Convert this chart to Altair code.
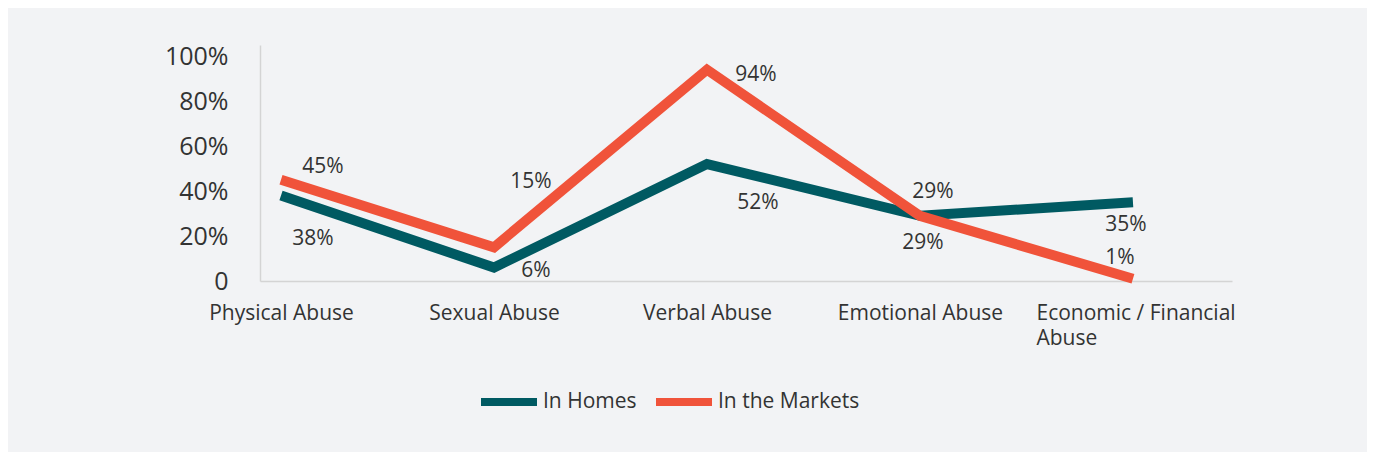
import altair as alt
import pandas as pd

categories = ["Physical Abuse", "Sexual Abuse", "Verbal Abuse", "Emotional Abuse", "Economic / Financial Abuse"]
series = ["In Homes", "In the Markets"]
homes = [0.38, 0.06, 0.52, 0.29, 0.35]
markets = [0.45, 0.15, 0.94, 0.29, 0.01]
y_ticks = [0, 0.2, 0.4, 0.6, 0.8, 1.0]

rows = []
for i, c in enumerate(categories):
    rows.append({"idx": i, "category": c, "series": series[0], "value": homes[i]})
    rows.append({"idx": i, "category": c, "series": series[1], "value": markets[i]})
df = pd.DataFrame(rows)

FONT = "Open Sans"
TXT = "#333333"
colors = ["#005a62", "#f0533a"]

label_expr = ("datum.value == 0 ? 'Physical Abuse' : datum.value == 1 ? 'Sexual Abuse' : "
              "datum.value == 2 ? 'Verbal Abuse' : datum.value == 3 ? 'Emotional Abuse' : "
              "['Economic / Financial', 'Abuse']")

x = alt.X("idx:Q",
          scale=alt.Scale(domain=[-0.0986, 4.465], nice=False, zero=False),
          axis=alt.Axis(values=[0, 1, 2, 3, 4], labelExpr=label_expr, title=None,
                        grid=False, ticks=False, domainColor="#d4d4d4", domainWidth=1.5,
                        labelFont=FONT, labelFontSize=21, labelColor=TXT, labelPadding=21,
                        labelLineHeight=25, labelFlush=False, labelOverlap=False, labelLimit=400,
                        labelAlign={"condition": {"test": "datum.value == 4", "value": "left"}, "value": "center"},
                        labelOffset={"condition": {"test": "datum.value == 4", "value": -97}, "value": 0}))
y = alt.Y("value:Q",
          scale=alt.Scale(domain=[0, 1.05], nice=False),
          axis=alt.Axis(values=y_ticks, labelExpr="datum.value == 0 ? '0' : format(datum.value, '.0%')",
                        title=None, grid=False, ticks=False, domainColor="#d4d4d4", domainWidth=1.5,
                        labelFont=FONT, labelFontSize=25, labelColor=TXT, labelPadding=32))

color = alt.Color("series:N", scale=alt.Scale(domain=series, range=colors),
                  legend=alt.Legend(title=None, orient="none", direction="horizontal",
                                    legendX=217, legendY=325, symbolType="stroke",
                                    symbolStrokeWidth=8, symbolSize=3136, labelFont=FONT,
                                    labelFontSize=21, labelColor=TXT, labelOffset=2,
                                    columnPadding=3, padding=0,
                                    labelExpr="datum.label == 'In the Markets' ? '\u00a0\u00a0In the Markets' : datum.label"))

lines = alt.Chart(df).mark_line(strokeWidth=10, strokeCap="butt", strokeJoin="miter").encode(
    x=x, y=y, color=color, order="idx:Q")

# label offsets (dx, dy) per (series, idx)
offsets = {
    ("In the Markets", 0): (42, -13), ("In Homes", 0): (32, 43),
    ("In the Markets", 1): (37, -65), ("In Homes", 1): (42, 3),
    ("In the Markets", 2): (49, 5), ("In Homes", 2): (51, 39),
    ("In the Markets", 3): (13, -24), ("In Homes", 3): (3, 27),
    ("In Homes", 4): (-7, 23), ("In the Markets", 4): (-13, -21),
}
layers = [lines]
for (s, i), (dx, dy) in offsets.items():
    t = alt.Chart(df).transform_filter(
        (alt.datum.series == s) & (alt.datum.idx == i)
    ).mark_text(font=FONT, fontSize=21, color=TXT, dx=dx, dy=dy, align="center", baseline="middle").encode(
        x="idx:Q", y="value:Q", text=alt.Text("value:Q", format=".0%"))
    layers.append(t)

chart = alt.layer(*layers).properties(
    width=972, height=236, background="#f2f3f5",
    padding={"left": 252, "top": 37, "right": 135, "bottom": 171},
    autosize=alt.AutoSizeParams(type="none"),
).configure_view(stroke=None)

chart.save("out.html", embed_options={"renderer": "svg", "actions": False})
